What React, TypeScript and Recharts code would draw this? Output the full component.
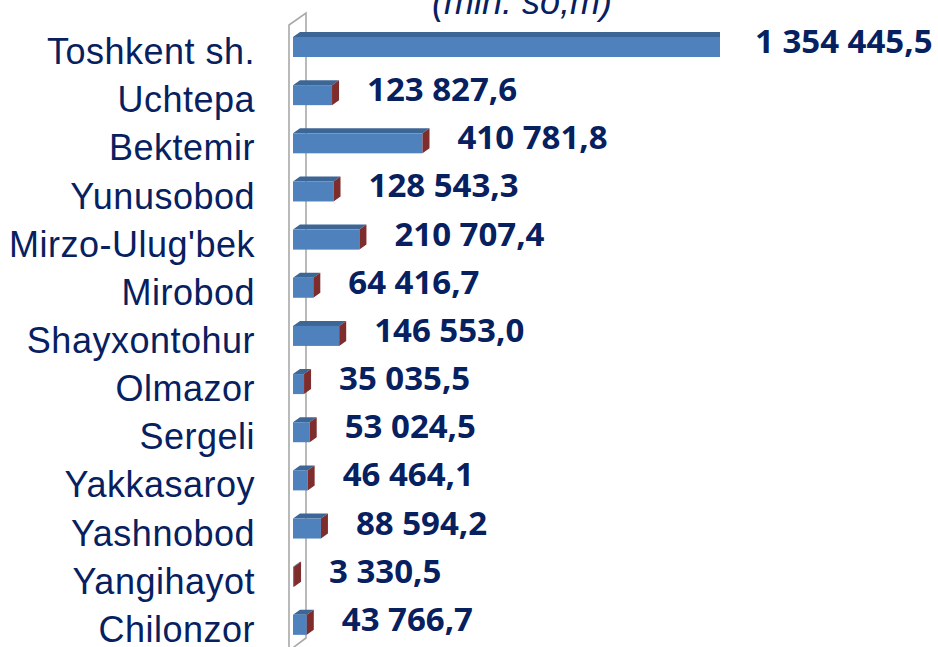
import React from 'react';
import { BarChart, Bar, XAxis, YAxis, LabelList } from 'recharts';

// districts of Toshkent, top to bottom
const categories = [
  'Toshkent sh.',
  'Uchtepa',
  'Bektemir',
  'Yunusobod',
  "Mirzo-Ulug'bek",
  'Mirobod',
  'Shayxontohur',
  'Olmazor',
  'Sergeli',
  'Yakkasaroy',
  'Yashnobod',
  'Yangihayot',
  'Chilonzor',
];

// mln. so'm
const values = [
  1354445.5, 123827.6, 410781.8, 128543.3, 210707.4, 64416.7, 146553.0,
  35035.5, 53024.5, 46464.1, 88594.2, 3330.5, 43766.7,
];

const title = '(mln. so,m)';

const data = categories.map((name, i) => ({ name, value: values[i] }));

const NAVY = '#062060';
const DX = 7;
const DY = 5;
const CHART_W = 938;
const VALUE_FS = 33;

const formatValue = (v: number) => {
  const [int, dec] = v.toFixed(1).split('.');
  return int.replace(/\B(?=(\d{3})+(?!\d))/g, ' ') + ',' + dec;
};

// rough width of a label in Open Sans Bold
const labelWidth = (s: string) =>
  s.split('').reduce((w, c) => w + (/\d/.test(c) ? 0.572 : 0.265), 0) * VALUE_FS;

// 3D-looking bar: front, top and right side
const Bar3D = (props: any) => {
  const { x, y, width, height } = props;
  const w = Math.max(width, 0.8);
  return (
    <g>
      <polygon
        points={`${x},${y} ${x + DX},${y - DY} ${x + w + DX},${y - DY} ${x + w},${y}`}
        fill="#3c6696"
      />
      <rect x={x} y={y} width={w} height={height} fill="#4f81bd" />
      <polygon
        points={`${x + w},${y} ${x + w + DX},${y - DY} ${x + w + DX},${y + height - DY} ${x + w},${y + height}`}
        fill="#7f2c2c"
      />
    </g>
  );
};

const ValueLabel = (props: any) => {
  const { x, y, width, height, value } = props;
  const text = formatValue(value);
  // keep the label inside the chart
  const lx = Math.min(x + width + DX + 28, CHART_W - 4 - labelWidth(text));
  return (
    <text
      x={lx}
      y={y + height / 2 + 6}
      fill={NAVY}
      fontFamily="'Open Sans', sans-serif"
      fontWeight={700}
      fontSize={VALUE_FS}
    >
      {text}
    </text>
  );
};

const CategoryTick = (props: any) => {
  const { x, y, payload } = props;
  return (
    <text
      x={x}
      y={y + 17}
      textAnchor="end"
      fill={NAVY}
      fontFamily="'Liberation Sans', Arial, sans-serif"
      fontSize={36}
      letterSpacing={0.5}
    >
      {payload.value}
    </text>
  );
};

const App = () => {
  return (
    <div
      style={{
        position: 'absolute',
        left: 0,
        top: 0,
        width: CHART_W,
        height: 647,
        overflow: 'hidden',
        background: '#fff',
      }}
    >
      {/* wall of the 3D plot and the title */}
      <svg
        width={CHART_W}
        height={647}
        style={{ position: 'absolute', left: 0, top: 0 }}
      >
        <polyline
          points="289,660 289,25 306,13 306,638 290,650"
          fill="none"
          stroke="#a9a9a9"
          strokeWidth={1.6}
        />
        <text
          x={522}
          y={14}
          textAnchor="middle"
          fill={NAVY}
          fontFamily="'Liberation Sans', Arial, sans-serif"
          fontStyle="italic"
          fontSize={36}
        >
          {title}
        </text>
      </svg>
      <BarChart
        width={CHART_W}
        height={660}
        data={data}
        layout="vertical"
        margin={{ top: 23, right: 218, bottom: 11, left: 0 }}
      >
        <XAxis type="number" hide domain={[0, 1354445.5]} allowDataOverflow />
        <YAxis
          type="category"
          dataKey="name"
          width={293}
          axisLine={false}
          tickLine={false}
          tickSize={0}
          tickMargin={38}
          interval={0}
          tick={<CategoryTick />}
        />
        <Bar
          dataKey="value"
          barSize={20}
          shape={<Bar3D />}
          isAnimationActive={false}
        >
          <LabelList dataKey="value" content={<ValueLabel />} />
        </Bar>
      </BarChart>
    </div>
  );
};

export default App;
